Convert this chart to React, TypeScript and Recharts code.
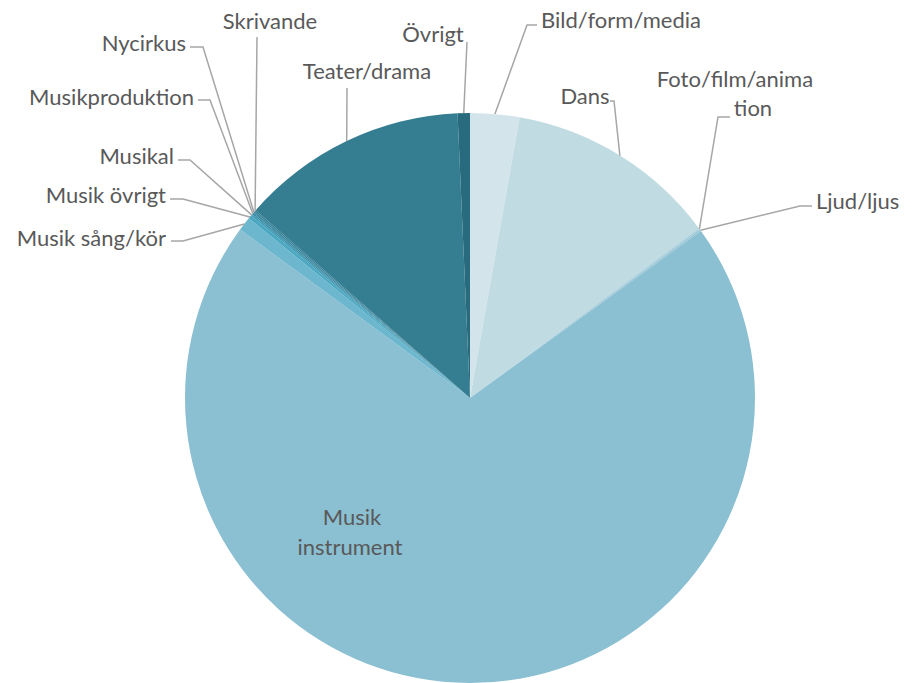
import React from "react";
import { PieChart, Pie, Cell } from "recharts";

const categories = [
  "Bild/form/media",
  "Dans",
  "Foto/film/animation",
  "Ljud/ljus",
  "Musik instrument",
  "Musik sång/kör",
  "Musik övrigt",
  "Musikal",
  "Musikproduktion",
  "Nycirkus",
  "Skrivande",
  "Teater/drama",
  "Övrigt",
];
const values = [28, 121, 1, 1, 703, 8, 2, 1, 1, 1, 1, 129, 7];
const colors = [
  "#d3e5eb",
  "#c1dbe3",
  "#a9cfdc",
  "#9ac7d7",
  "#8bbfd2",
  "#6db7ce",
  "#4aa7c2",
  "#3e9ab5",
  "#3a8ea8",
  "#38879f",
  "#368197",
  "#357d91",
  "#286b7e",
];
// label text lines (for wrapped labels)
const labelLines: Record<string, string[]> = {
  "Foto/film/animation": ["Foto/film/anima", "tion"],
  "Musik instrument": ["Musik", "instrument"],
};

// label placement: leader-line elbow/end points and text anchor
type Layout = {
  pts: [number, number][];
  text: [number, number][];
  anchor: "start" | "middle" | "end";
  inside?: boolean;
};
const layout: Record<string, Layout> = {
  "Bild/form/media": { pts: [[527, 25], [537, 25]], text: [[541, 19]], anchor: "start" },
  Dans: { pts: [[614, 101], [610, 101]], text: [[585, 95]], anchor: "middle" },
  "Foto/film/animation": { pts: [[718, 117], [730, 117]], text: [[735, 78], [753, 107]], anchor: "middle" },
  "Ljud/ljus": { pts: [[800, 206], [812, 206]], text: [[816, 200]], anchor: "start" },
  "Musik instrument": { pts: [], text: [[352, 516], [350, 546]], anchor: "middle", inside: true },
  "Musik sång/kör": { pts: [[183, 241], [171, 241]], text: [[166, 237]], anchor: "end" },
  "Musik övrigt": { pts: [[183, 199], [170, 199]], text: [[166, 194]], anchor: "end" },
  Musikal: { pts: [[190, 160], [178, 160]], text: [[174, 155]], anchor: "end" },
  Musikproduktion: { pts: [[210, 100], [198, 100]], text: [[194, 96]], anchor: "end" },
  Nycirkus: { pts: [[203, 47], [190, 47]], text: [[186, 42]], anchor: "end" },
  Skrivande: { pts: [[257, 37]], text: [[270, 20]], anchor: "middle" },
  "Teater/drama": { pts: [[347, 88]], text: [[367, 70]], anchor: "middle" },
  "Övrigt": { pts: [[467, 42]], text: [[433, 33]], anchor: "middle" },
};

const data = categories.map((name, i) => ({ name, value: values[i] }));

const RAD = Math.PI / 180;

const renderLabel = (props: any) => {
  const { cx, cy, midAngle, outerRadius, name } = props;
  const l = layout[name];
  if (!l) return null;
  const ex = cx + outerRadius * Math.cos(-midAngle * RAD);
  const ey = cy + outerRadius * Math.sin(-midAngle * RAD);
  const lines = labelLines[name] || [name];
  const pts = [[ex, ey], ...l.pts];
  return (
    <g key={name}>
      {!l.inside && pts.length > 1 && (
        <polyline
          points={pts.map((p) => p.join(",")).join(" ")}
          fill="none"
          stroke="#a6a6a6"
          strokeWidth={1.5}
        />
      )}
      {lines.map((t, i) => (
        <text
          key={i}
          x={l.text[i][0]}
          y={l.text[i][1]}
          textAnchor={l.anchor}
          dominantBaseline="central"
          fill="#595959"
          fontSize={22}
          fontFamily="Lato, 'Liberation Sans', sans-serif"
        >
          {t}
        </text>
      ))}
    </g>
  );
};

export default function App() {
  return (
    <div style={{ position: "absolute", left: 0, top: 0, width: 913, height: 683, background: "#fff" }}>
      <PieChart width={913} height={683} margin={{ top: 0, right: 0, bottom: 0, left: 0 }}>
        <Pie
          data={data}
          dataKey="value"
          nameKey="name"
          cx={470}
          cy={398}
          outerRadius={285}
          startAngle={90}
          endAngle={-270}
          stroke="none"
          label={renderLabel}
          labelLine={false}
          isAnimationActive={false}
        >
          {data.map((d, i) => (
            <Cell key={d.name} fill={colors[i]} stroke="none" />
          ))}
        </Pie>
      </PieChart>
    </div>
  );
}
